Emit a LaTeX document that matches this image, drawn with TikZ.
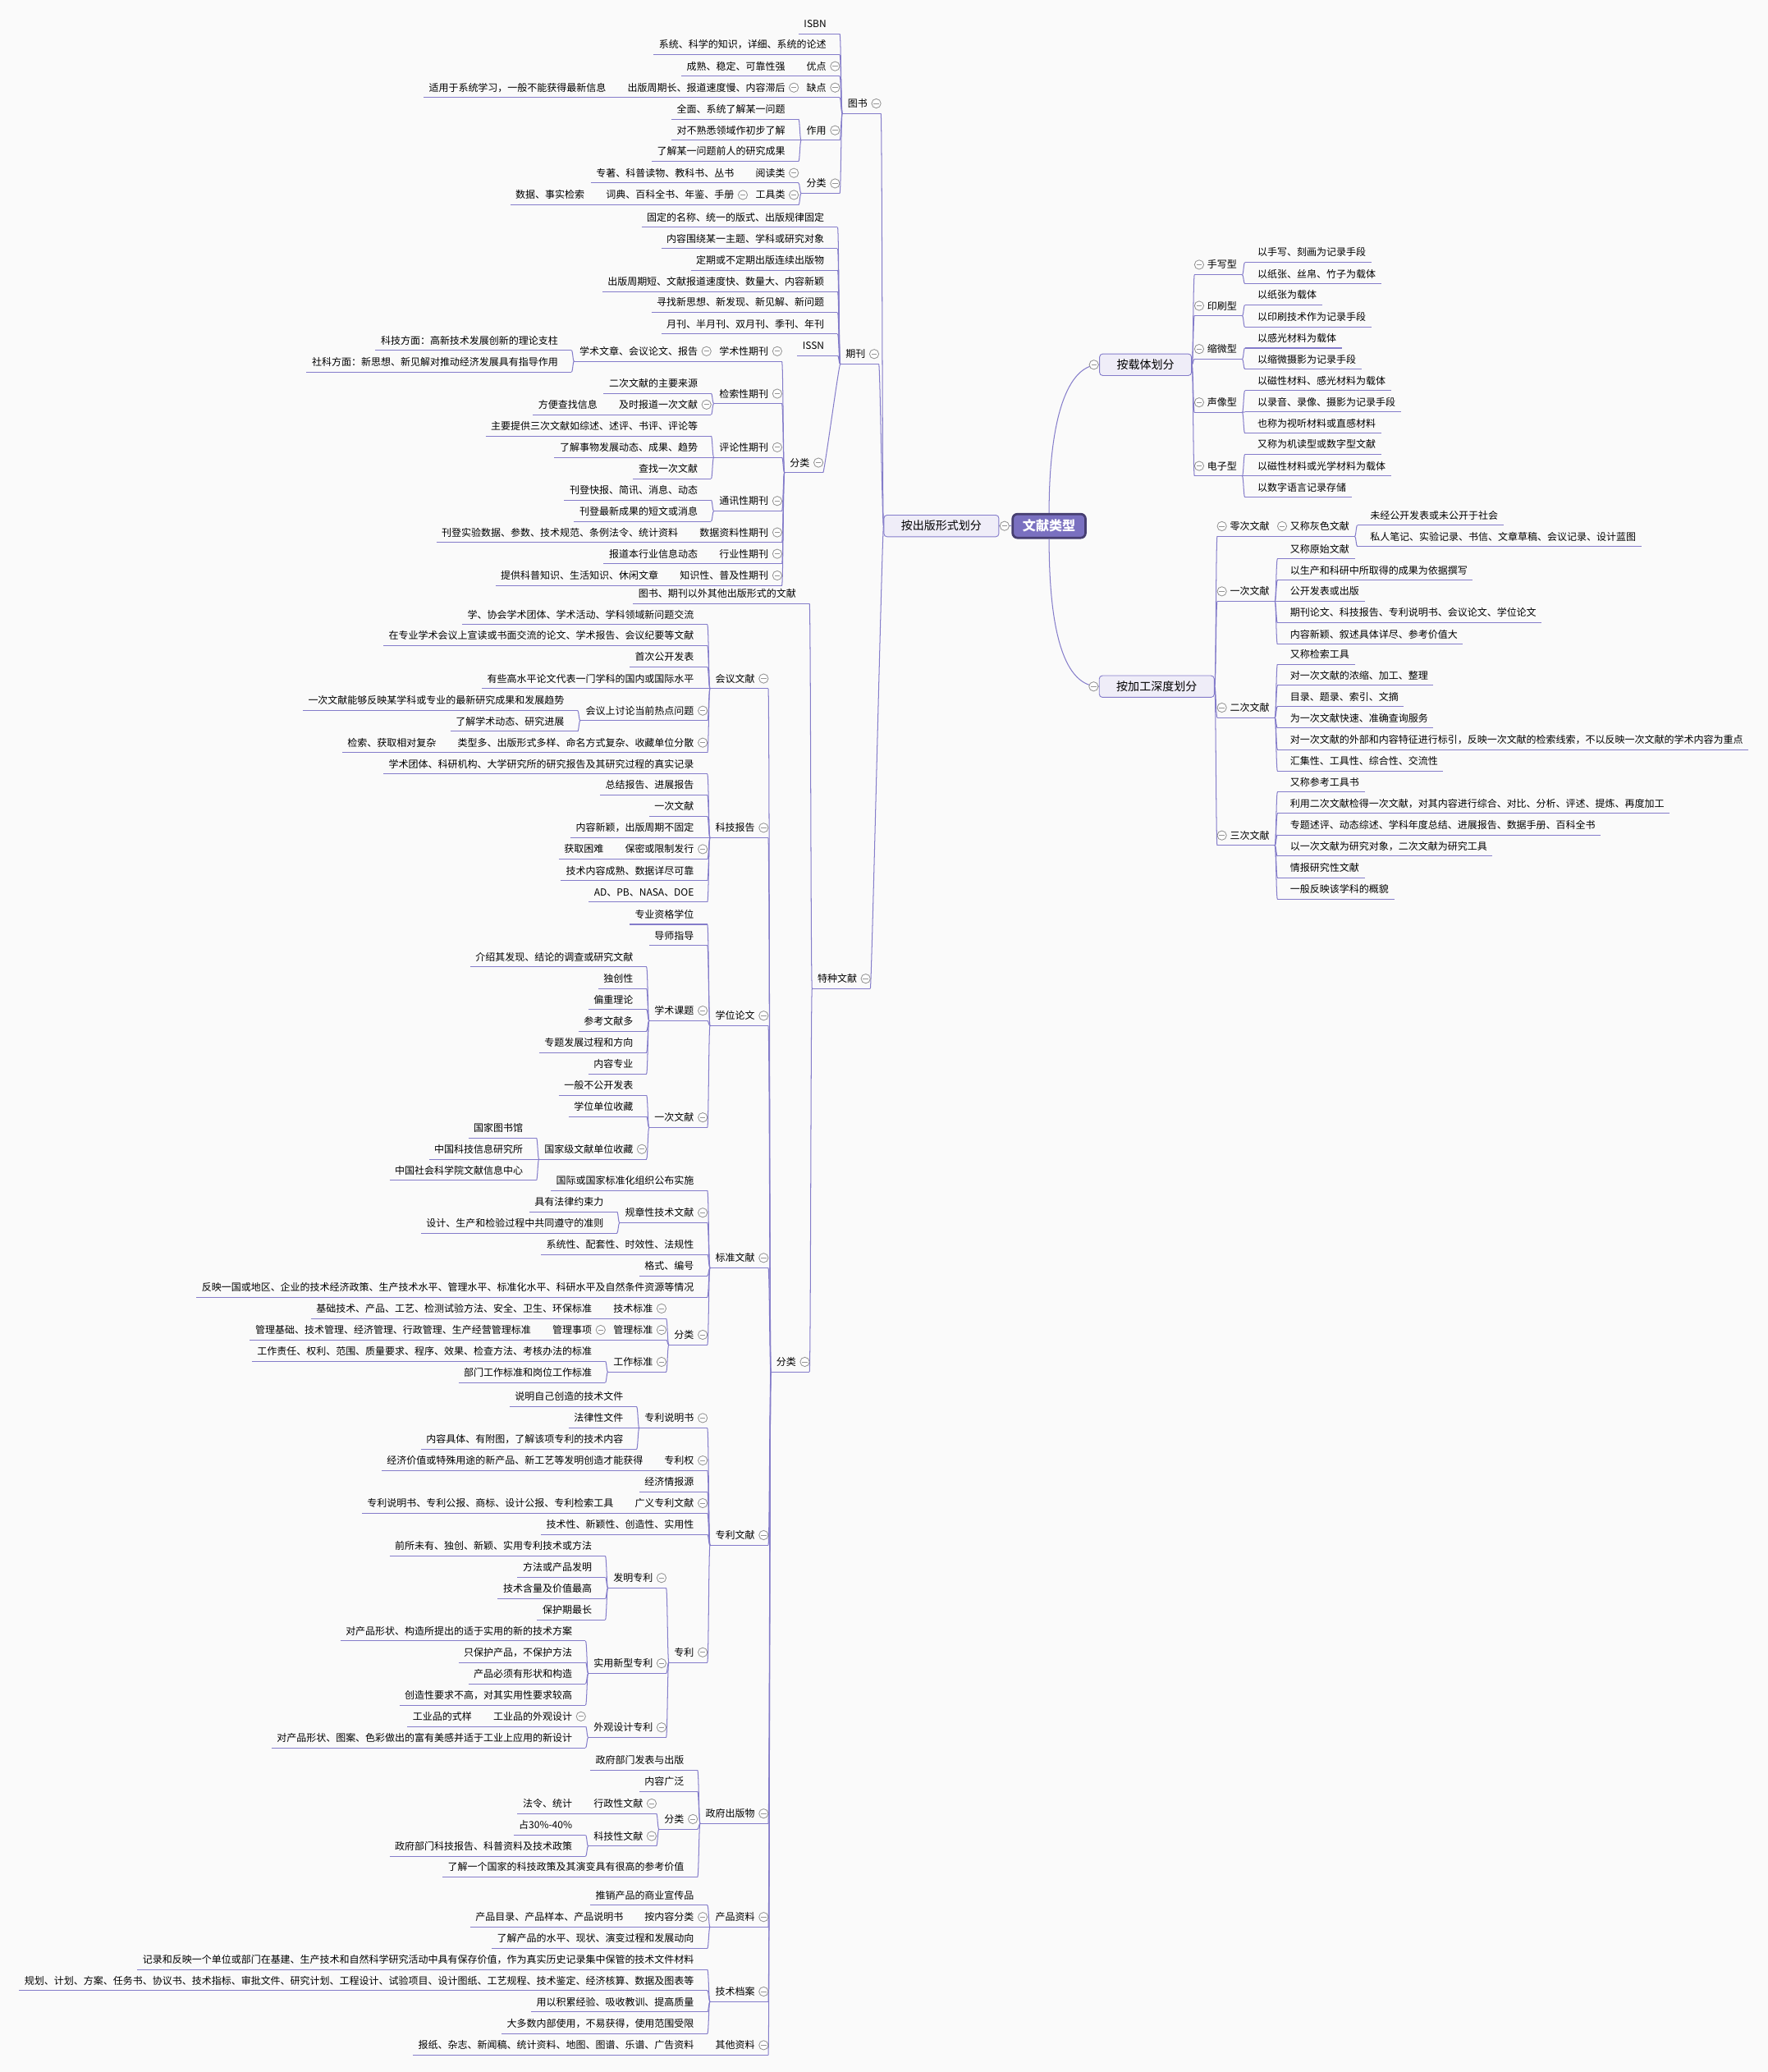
\documentclass[tikz,border=0pt]{standalone}
\usepackage{fontspec}
\setmainfont{Noto Sans CJK SC}
\usetikzlibrary{calc}

\definecolor{linec}{RGB}{132,124,202}
\definecolor{rootfill}{RGB}{122,112,192}
\definecolor{rootdraw}{RGB}{70,62,112}
\definecolor{boxfill}{RGB}{239,237,248}
\definecolor{bgc}{RGB}{250,250,250}

\tikzset{
  txt/.style={inner sep=0pt, text=black, font=\fontsize{10.6pt}{12pt}\selectfont, text height=9.3pt, text depth=1.3pt},
  uline/.style={draw=linec, line width=0.9pt},
  conn/.style={draw=linec, line width=0.9pt},
  coll/.style={circle, draw=gray!85, fill=white, line width=0.75pt, minimum size=0.35cm, inner sep=0pt,
    path picture={\draw[gray!85, line width=0.75pt] ([xshift=-0.1cm]path picture bounding box.center) -- ([xshift=0.1cm]path picture bounding box.center);}},
  lvl/.style={draw=linec, fill=boxfill, rounded corners=0.12cm, line width=0.8pt, inner xsep=0.65cm, inner ysep=0pt,
    minimum height=0.82cm, font=\fontsize{12.4pt}{14pt}\selectfont, text height=10.9pt, text depth=1.5pt},
  rootbox/.style={draw=rootdraw, fill=rootfill, rounded corners=0.18cm, line width=2.4pt, text=white, inner xsep=0.38cm,
    inner ysep=0pt, minimum height=0.9cm, font=\fontsize{14.2pt}{16pt}\selectfont\bfseries, text height=12.5pt, text depth=1.7pt}
}

% left-hand topic: [gap]{name}{parent}{y}{text}
\newcommand{\Lnode}[5][2]{%
  \coordinate (#2-y) at (0,#4);
  \coordinate (#2-r) at ($(#3-l |- #2-y)+(-#1,7.6)$);
  \node[txt, anchor=east] (#2) at ($(#2-r)+(-10,-7.6)$) {#5};
  \coordinate (#2-l) at ($(#2.west)+(-4,7.6)$);
  \draw[uline] (#2-l) -- (#2-r);
  \draw[conn] (#3-l) .. controls +(-1,0) and +(1,0) .. (#2-r);
}
\newcommand{\Lpar}[5][2]{\Lnode[#1]{#2}{#3}{#4}{#5}\node[coll] (#2-c) at ($(#2-r)+(-3.5,-7.6)$) {};}
% right-hand topic
\newcommand{\Rnode}[5][2]{%
  \coordinate (#2-y) at (0,#4);
  \coordinate (#2-l) at ($(#3-r |- #2-y)+(#1,7.6)$);
  \node[txt, anchor=west] (#2) at ($(#2-l)+(9.5,-7.6)$) {#5};
  \coordinate (#2-r) at ($(#2.east)+(4,7.6)$);
  \draw[uline] (#2-l) -- (#2-r);
  \draw[conn] (#3-r) .. controls +(1,0) and +(-1,0) .. (#2-l);
}
\newcommand{\Rpar}[5][2]{\Rnode[#1]{#2}{#3}{#4}{#5}\node[coll] (#2-c) at ($(#2-l)+(3.5,-7.6)$) {};}

\begin{document}
\begin{tikzpicture}[x=0.05cm, y=-0.05cm]
\fill[bgc] (0,0) rectangle (1338,1568);
\useasboundingbox (0,0) rectangle (1338,1568);

\node[rootbox] (root) at (794,398) {文献类型};
\node[lvl] (pub) at (712.5,398) {按出版形式划分};
\node[lvl] (car) at (867,276) {按载体划分};
\node[lvl] (dep) at (875.5,519.5) {按加工深度划分};
\coordinate (pub-l) at (pub.west);
\coordinate (car-r) at (car.east);
\coordinate (dep-r) at (dep.east);
\draw[conn] (root.west) -- (pub.east);
\draw[conn] (root.north) .. controls (794,316) and (808,276) .. (car.west);
\draw[conn] (root.south) .. controls (794,480) and (806,519.5) .. (dep.west);
\node[coll] (pub-c) at ($(pub.east)+(4,0)$) {};
\node[coll] (car-c) at ($(car.west)+(-4,0)$) {};
\node[coll] (dep-c) at ($(dep.west)+(-4,0)$) {};

% ---- 按载体划分
\Rpar{c1}{car}{200.3}{手写型}
\foreach \nm/\yy/\tx in {c11/191/以手写、刻画为记录手段, c12/207.2/以纸张、丝帛、竹子为载体} {\Rnode{\nm}{c1}{\yy}{\tx}}
\Rpar{c2}{car}{231.4}{印刷型}
\foreach \nm/\yy/\tx in {c21/223.3/以纸张为载体, c22/239.9/以印刷技术作为记录手段} {\Rnode{\nm}{c2}{\yy}{\tx}}
\Rpar{c3}{car}{264.1}{缩微型}
\foreach \nm/\yy/\tx in {c31/255.8/以感光材料为载体, c32/271.8/以缩微摄影为记录手段} {\Rnode{\nm}{c3}{\yy}{\tx}}
\Rpar{c4}{car}{304.5}{声像型}
\foreach \nm/\yy/\tx in {c41/288/以磁性材料、感光材料为载体, c42/304.1/以录音、录像、摄影为记录手段, c43/320.3/也称为视听材料或直感材料} {\Rnode{\nm}{c4}{\yy}{\tx}}
\Rpar{c5}{car}{352.6}{电子型}
\foreach \nm/\yy/\tx in {c51/336.2/又称为机读型或数字型文献, c52/352.6/以磁性材料或光学材料为载体, c53/368.7/以数字语言记录存储} {\Rnode{\nm}{c5}{\yy}{\tx}}

% ---- 按加工深度划分
\Rpar{d0}{dep}{398.2}{零次文献}
\Rpar{d01}{d0}{398.2}{又称灰色文献}
\foreach \nm/\yy/\tx in {d011/389.9/未经公开发表或未公开于社会, d012/406/私人笔记、实验记录、书信、文章草稿、会议记录、设计蓝图} {\Rnode{\nm}{d01}{\yy}{\tx}}
\Rpar{d1}{dep}{447.5}{一次文献}
\foreach \nm/\yy/\tx in {d11/415.3/又称原始文献, d12/431.5/以生产和科研中所取得的成果为依据撰写, d13/447.5/公开发表或出版, d14/463.6/期刊论文、科技报告、专利说明书、会议论文、学位论文, d15/480/内容新颖、叙述具体详尽、参考价值大} {\Rnode{\nm}{d1}{\yy}{\tx}}
\Rpar{d2}{dep}{535.5}{二次文献}
\foreach \nm/\yy/\tx in {d21/495.1/又称检索工具, d22/511.1/对一次文献的浓缩、加工、整理, d23/527.2/目录、题录、索引、文摘, d24/543.4/为一次文献快速、准确查询服务, d25/559.7/对一次文献的外部和内容特征进行标引，反映一次文献的检索线索，不以反映一次文献的学术内容为重点, d26/575.9/汇集性、工具性、综合性、交流性} {\Rnode{\nm}{d2}{\yy}{\tx}}
\Rpar{d3}{dep}{632.2}{三次文献}
\foreach \nm/\yy/\tx in {d31/591.8/又称参考工具书, d32/608/利用二次文献检得一次文献，对其内容进行综合、对比、分析、评述、提炼、再度加工, d33/624.2/专题述评、动态综述、学科年度总结、进展报告、数据手册、百科全书, d34/640.3/以一次文献为研究对象，二次文献为研究工具, d35/656.7/情报研究性文献, d36/672.8/一般反映该学科的概貌} {\Rnode{\nm}{d3}{\yy}{\tx}}

% ---- 图书
\Lpar{b}{pub}{78.3}{图书}
\foreach \nm/\yy/\tx in {b1/18/ISBN, b2/33.8/系统、科学的知识，详细、系统的论述} {\Lnode{\nm}{b}{\yy}{\tx}}
\Lpar{b3}{b}{50.1}{优点}
\Lnode{b31}{b3}{50.1}{成熟、稳定、可靠性强}
\Lpar{b4}{b}{66.3}{缺点}
\Lpar{b41}{b4}{66.3}{出版周期长、报道速度慢、内容滞后}
\Lnode{b411}{b41}{66.3}{适用于系统学习，一般不能获得最新信息}
\Lpar{b5}{b}{98.6}{作用}
\foreach \nm/\yy/\tx in {b51/82.5/全面、系统了解某一问题, b52/98.6/对不熟悉领域作初步了解, b53/114.6/了解某一问题前人的研究成果} {\Lnode{\nm}{b5}{\yy}{\tx}}
\Lpar{b6}{b}{138.8}{分类}
\Lpar{b61}{b6}{130.9}{阅读类}
\Lnode{b611}{b61}{130.9}{专著、科普读物、教科书、丛书}
\Lpar{b62}{b6}{147.5}{工具类}
\Lpar{b621}{b62}{147.5}{词典、百科全书、年鉴、手册}
\Lnode{b6211}{b621}{147.5}{数据、事实检索}

% ---- 期刊
\Lpar[3.6]{j}{pub}{267.9}{期刊}
\foreach \nm/\yy/\tx in {j1/164.3/固定的名称、统一的版式、出版规律固定, j2/180.6/内容围绕某一主题、学科或研究对象, j3/196.8/定期或不定期出版连续出版物, j4/213/出版周期短、文献报道速度快、数量大、内容新颖, j5/228.9/寻找新思想、新发现、新见解、新问题, j6/245.1/月刊、半月刊、双月刊、季刊、年刊, j7/261.4/ISSN} {\Lnode{\nm}{j}{\yy}{\tx}}
\Lpar[13]{j8}{j}{350.1}{分类}
\Lpar{j81}{j8}{265.8}{学术性期刊}
\Lpar{j811}{j81}{265.8}{学术文章、会议论文、报告}
\foreach \nm/\yy/\tx in {j8111/257.5/科技方面：高新技术发展创新的理论支柱, j8112/273.9/社科方面：新思想、新见解对推动经济发展具有指导作用} {\Lnode{\nm}{j811}{\yy}{\tx}}
\Lpar{j82}{j8}{297.9}{检索性期刊}
\Lnode{j821}{j82}{290}{二次文献的主要来源}
\Lpar{j822}{j82}{306.2}{及时报道一次文献}
\Lnode{j8221}{j822}{306.2}{方便查找信息}
\Lpar{j83}{j8}{338.5}{评论性期刊}
\foreach \nm/\yy/\tx in {j831/322.3/主要提供三次文献如综述、述评、书评、评论等, j832/338.5/了解事物发展动态、成果、趋势, j833/354.7/查找一次文献} {\Lnode{\nm}{j83}{\yy}{\tx}}
\Lpar{j84}{j8}{379.1}{通讯性期刊}
\foreach \nm/\yy/\tx in {j841/370.8/刊登快报、简讯、消息、动态, j842/387/刊登最新成果的短文或消息} {\Lnode{\nm}{j84}{\yy}{\tx}}
\Lpar{j85}{j8}{402.9}{数据资料性期刊}
\Lnode{j851}{j85}{402.9}{刊登实验数据、参数、技术规范、条例法令、统计资料}
\Lpar{j86}{j8}{419.1}{行业性期刊}
\Lnode{j861}{j86}{419.1}{报道本行业信息动态}
\Lpar{j87}{j8}{435.5}{知识性、普及性期刊}
\Lnode{j871}{j87}{435.5}{提供科普知识、生活知识、休闲文章}

% ---- 特种文献
\Lpar[10]{t}{pub}{740.6}{特种文献}
\Lnode{t1}{t}{449.1}{图书、期刊以外其他出版形式的文献}
\Lpar{t2}{t}{1030.6}{分类}
% 会议文献
\Lpar{ta}{t2}{513.5}{会议文献}
\foreach \nm/\yy/\tx in {ta1/465.1/学、协会学术团体、学术活动、学科领域新问题交流, ta2/481/在专业学术会议上宣读或书面交流的论文、学术报告、会议纪要等文献, ta3/497.2/首次公开发表, ta4/513.5/有些高水平论文代表一门学科的国内或国际水平} {\Lnode{\nm}{ta}{\yy}{\tx}}
\Lpar{ta5}{ta}{537.8}{会议上讨论当前热点问题}
\foreach \nm/\yy/\tx in {ta51/529.9/一次文献能够反映某学科或专业的最新研究成果和发展趋势, ta52/545.9/了解学术动态、研究进展} {\Lnode{\nm}{ta5}{\yy}{\tx}}
\Lpar{ta6}{ta}{562}{类型多、出版形式多样、命名方式复杂、收藏单位分散}
\Lnode{ta61}{ta6}{562}{检索、获取相对复杂}
% 科技报告
\Lpar{tb}{t2}{626.4}{科技报告}
\foreach \nm/\yy/\tx in {tb1/578.2/学术团体、科研机构、大学研究所的研究报告及其研究过程的真实记录, tb2/594.1/总结报告、进展报告, tb3/610.3/一次文献, tb4/626.4/内容新颖，出版周期不固定, tb6/658.8/技术内容成熟、数据详尽可靠, tb7/675/AD、PB、NASA、DOE} {\Lnode{\nm}{tb}{\yy}{\tx}}
\Lpar{tb5}{tb}{642.6}{保密或限制发行}
\Lnode{tb51}{tb5}{642.6}{获取困难}
% 学位论文
\Lpar{tc}{t2}{768.6}{学位论文}
\foreach \nm/\yy/\tx in {tc1/691.9/专业资格学位, tc2/708/导师指导} {\Lnode{\nm}{tc}{\yy}{\tx}}
\Lpar{tc3}{tc}{764.8}{学术课题}
\foreach \nm/\yy/\tx in {tc31/724.2/介绍其发现、结论的调查或研究文献, tc32/740.4/独创性, tc33/756.5/偏重理论, tc34/772.7/参考文献多, tc35/788.9/专题发展过程和方向, tc36/805/内容专业} {\Lnode{\nm}{tc3}{\yy}{\tx}}
\Lpar{tc4}{tc}{845.6}{一次文献}
\foreach \nm/\yy/\tx in {tc41/821.2/一般不公开发表, tc42/837.3/学位单位收藏} {\Lnode{\nm}{tc4}{\yy}{\tx}}
\Lpar{tc43}{tc4}{869.6}{国家级文献单位收藏}
\foreach \nm/\yy/\tx in {tc431/853.5/国家图书馆, tc432/869.6/中国科技信息研究所, tc433/885.6/中国社会科学院文献信息中心} {\Lnode{\nm}{tc43}{\yy}{\tx}}
% 标准文献
\Lpar{td}{t2}{951.9}{标准文献}
\foreach \nm/\yy/\tx in {td1/893.3/国际或国家标准化组织公布实施, td3/941.7/系统性、配套性、时效性、法规性, td4/957.9/格式、编号, td5/974/反映一国或地区、企业的技术经济政策、生产技术水平、管理水平、标准化水平、科研水平及自然条件资源等情况} {\Lnode{\nm}{td}{\yy}{\tx}}
\Lpar{td2}{td}{917.7}{规章性技术文献}
\foreach \nm/\yy/\tx in {td21/909.4/具有法律约束力, td22/925.6/设计、生产和检验过程中共同遵守的准则} {\Lnode{\nm}{td2}{\yy}{\tx}}
\Lpar{td6}{td}{1010.1}{分类}
\Lpar{td61}{td6}{990.2}{技术标准}
\Lnode{td611}{td61}{990.2}{基础技术、产品、工艺、检测试验方法、安全、卫生、环保标准}
\Lpar{td62}{td6}{1006.4}{管理标准}
\Lpar{td621}{td62}{1006.4}{管理事项}
\Lnode{td6211}{td621}{1006.4}{管理基础、技术管理、经济管理、行政管理、生产经营管理标准}
\Lpar{td63}{td6}{1030.6}{工作标准}
\foreach \nm/\yy/\tx in {td631/1022.5/工作责任、权利、范围、质量要求、程序、效果、检查方法、考核办法的标准, td632/1038.7/部门工作标准和岗位工作标准} {\Lnode{\nm}{td63}{\yy}{\tx}}
% 专利文献
\Lpar{te}{t2}{1161.7}{专利文献}
\Lpar{te1}{te}{1073.1}{专利说明书}
\foreach \nm/\yy/\tx in {te11/1057/说明自己创造的技术文件, te12/1073.1/法律性文件, te13/1089/内容具体、有附图，了解该项专利的技术内容} {\Lnode{\nm}{te1}{\yy}{\tx}}
\Lpar{te2}{te}{1105.2}{专利权}
\Lnode{te21}{te2}{1105.2}{经济价值或特殊用途的新产品、新工艺等发明创造才能获得}
\Lnode{te3}{te}{1121.3}{经济情报源}
\Lpar{te4}{te}{1137.5}{广义专利文献}
\Lnode{te41}{te4}{1137.5}{专利说明书、专利公报、商标、设计公报、专利检索工具}
\Lnode{te5}{te}{1153.7}{技术性、新颖性、创造性、实用性}
\Lpar{te6}{te}{1250.4}{专利}
\Lpar{te61}{te6}{1194.1}{发明专利}
\foreach \nm/\yy/\tx in {te611/1169.8/前所未有、独创、新颖、实用专利技术或方法, te612/1186/方法或产品发明, te613/1202.2/技术含量及价值最高, te614/1218.3/保护期最长} {\Lnode{\nm}{te61}{\yy}{\tx}}
\Lpar{te62}{te6}{1258.7}{实用新型专利}
\foreach \nm/\yy/\tx in {te621/1234.2/对产品形状、构造所提出的适于实用的新的技术方案, te622/1250.4/只保护产品，不保护方法, te623/1266.6/产品必须有形状和构造, te624/1282.8/创造性要求不高，对其实用性要求较高} {\Lnode{\nm}{te62}{\yy}{\tx}}
\Lpar{te63}{te6}{1307.2}{外观设计专利}
\Lpar{te631}{te63}{1298.9}{工业品的外观设计}
\Lnode{te6311}{te631}{1298.9}{工业品的式样}
\Lnode{te632}{te63}{1315.1}{对产品形状、图案、色彩做出的富有美感并适于工业上应用的新设计}
% 政府出版物
\Lpar{tf}{t2}{1372.4}{政府出版物}
\foreach \nm/\yy/\tx in {tf1/1332/政府部门发表与出版, tf2/1348.2/内容广泛, tf4/1412.8/了解一个国家的科技政策及其演变具有很高的参考价值} {\Lnode{\nm}{tf}{\yy}{\tx}}
\Lpar{tf3}{tf}{1376.6}{分类}
\Lpar{tf31}{tf3}{1364.8}{行政性文献}
\Lnode{tf311}{tf31}{1364.8}{法令、统计}
\Lpar{tf32}{tf3}{1389.4}{科技性文献}
\foreach \nm/\yy/\tx in {tf321/1381.1/占30\%-40\%, tf322/1397.3/政府部门科技报告、科普资料及技术政策} {\Lnode{\nm}{tf32}{\yy}{\tx}}
% 产品资料
\Lpar{tg}{t2}{1450.7}{产品资料}
\Lnode{tg1}{tg}{1434.2}{推销产品的商业宣传品}
\Lpar{tg2}{tg}{1450.7}{按内容分类}
\Lnode{tg21}{tg2}{1450.7}{产品目录、产品样本、产品说明书}
\Lnode{tg3}{tg}{1466.9}{了解产品的水平、现状、演变过程和发展动向}
% 技术档案
\Lpar{th}{t2}{1507.1}{技术档案}
\foreach \nm/\yy/\tx in {th1/1482.8/记录和反映一个单位或部门在基建、生产技术和自然科学研究活动中具有保存价值，作为真实历史记录集中保管的技术文件材料, th2/1498.8/规划、计划、方案、任务书、协议书、技术指标、审批文件、研究计划、工程设计、试验项目、设计图纸、工艺规程、技术鉴定、经济核算、数据及图表等, th3/1515/用以积累经验、吸收教训、提高质量, th4/1531.5/大多数内部使用，不易获得，使用范围受限} {\Lnode{\nm}{th}{\yy}{\tx}}
% 其他资料
\Lpar{ti}{t2}{1547.7}{其他资料}
\Lnode{ti1}{ti}{1547.7}{报纸、杂志、新闻稿、统计资料、地图、图谱、乐谱、广告资料}
\end{tikzpicture}
\end{document}
